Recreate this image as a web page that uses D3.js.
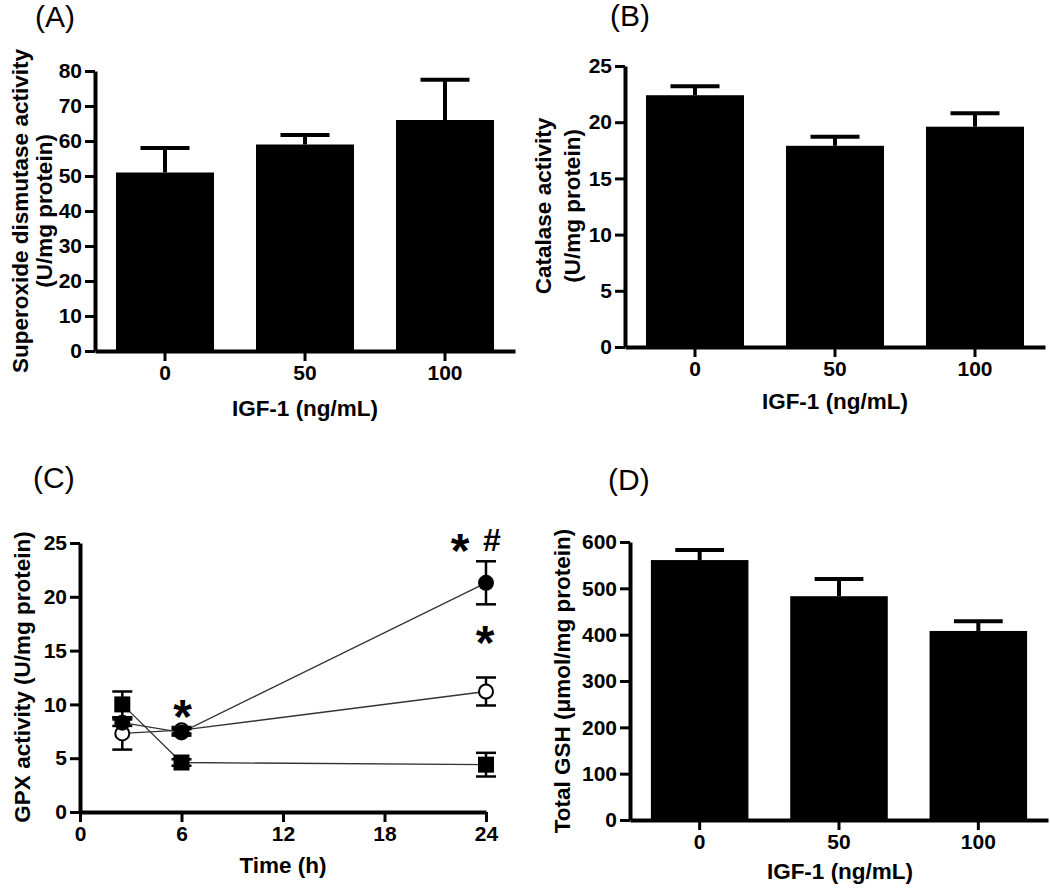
<!DOCTYPE html>
<html>
<head>
<meta charset="utf-8">
<script src="https://cdn.jsdelivr.net/npm/d3@7"></script>
<style>
  html, body { margin: 0; padding: 0; background: #fff; }
  svg { display: block; font-family: "Liberation Sans", Arial, sans-serif; }
</style>
</head>
<body>
<svg id="chart" width="1050" height="889"></svg>
<script>
// ---------------- DATA ----------------
const doses = ["0", "50", "100"];

const sodMean = [51, 59, 66];
const sodErr  = [7, 2.7, 11.5];
const sodTicks = [0, 10, 20, 30, 40, 50, 60, 70, 80];

const catMean = [22.4, 17.9, 19.6];
const catErr  = [0.8, 0.8, 1.2];
const catTicks = [0, 5, 10, 15, 20, 25];

const gshMean = [561, 483, 408];
const gshErr  = [22, 37, 21];
const gshTicks = [0, 100, 200, 300, 400, 500, 600];

const timePoints = [2.5, 6, 24];
const timeTicks = [0, 6, 12, 18, 24];
const gpxTicks = [0, 5, 10, 15, 20, 25];
const gpxFilled = [8.3, 7.4, 21.3];
const gpxFilledErr = [0.3, 0.3, 2.0];
const gpxOpen = [7.3, 7.6, 11.2];
const gpxOpenErr = [1.5, 0.3, 1.3];
const gpxSquare = [10.0, 4.6, 4.4];
const gpxSquareErr = [1.2, 0.3, 1.1];

// ---------------- HELPERS ----------------
const svg = d3.select("#chart");
const TICKFONT = "21px";
const TITLEFONT = "22.5px";

function styleAxis(g) {
  g.select(".domain").attr("stroke", "#000").attr("stroke-width", 4);
  g.selectAll(".tick line").attr("stroke", "#000").attr("stroke-width", 3);
  g.selectAll(".tick text")
    .attr("fill", "#000")
    .style("font-size", TICKFONT)
    .style("font-weight", "bold")
    .style("font-family", "'Liberation Sans', Arial, sans-serif");
}

function panelLabel(text, x, y) {
  svg.append("text").attr("x", x).attr("y", y)
    .style("font-size", "30px").style("font-weight", "normal")
    .text(text);
}

function yTitle(lines, xs, cy) {
  lines.forEach((t, i) => {
    svg.append("text")
      .attr("transform", `translate(${xs[i]},${cy}) rotate(-90)`)
      .attr("text-anchor", "middle")
      .style("font-size", TITLEFONT).style("font-weight", "bold")
      .text(t);
  });
}

function xTitle(text, cx, y) {
  svg.append("text").attr("x", cx).attr("y", y)
    .attr("text-anchor", "middle")
    .style("font-size", TITLEFONT).style("font-weight", "bold")
    .text(text);
}

function barPanel(cfg) {
  const x = d3.scaleBand().domain(doses).range([cfg.x0, cfg.x1])
    .paddingInner(0.3).paddingOuter(0.15);
  const y = d3.scaleLinear().domain([0, cfg.ymax]).range([cfg.yb, cfg.yt]);

  const g = svg.append("g");
  g.selectAll("rect.bar").data(cfg.mean).enter().append("rect")
    .attr("x", (d, i) => x(doses[i]))
    .attr("y", d => y(d))
    .attr("width", x.bandwidth())
    .attr("height", d => y(0) - y(d))
    .attr("fill", "#000");
  const capW = x.bandwidth() * 0.5;
  cfg.mean.forEach((m, i) => {
    const cx = x(doses[i]) + x.bandwidth() / 2;
    g.append("line").attr("x1", cx).attr("x2", cx)
      .attr("y1", y(m)).attr("y2", y(m + cfg.err[i]))
      .attr("stroke", "#000").attr("stroke-width", 4);
    g.append("line").attr("x1", cx - capW / 2).attr("x2", cx + capW / 2)
      .attr("y1", y(m + cfg.err[i])).attr("y2", y(m + cfg.err[i]))
      .attr("stroke", "#000").attr("stroke-width", 4);
  });
  const ya = g.append("g").attr("transform", `translate(${cfg.x0},0)`)
    .call(d3.axisLeft(y).tickValues(cfg.ticks).tickSize(10).tickSizeOuter(0).tickPadding(3));
  styleAxis(ya);
  const xa = g.append("g").attr("transform", `translate(0,${cfg.yb})`)
    .call(d3.axisBottom(x).tickSize(10).tickSizeOuter(0).tickPadding(4));
  styleAxis(xa);
}

// ---------------- PANEL A ----------------
barPanel({ x0: 95, x1: 515, yb: 351, yt: 71, ymax: 80, mean: sodMean, err: sodErr, ticks: sodTicks });
panelLabel("(A)", 35, 27);
yTitle(["Superoxide dismutase activity", "(U/mg protein)"], [28, 52], 211);
xTitle("IGF-1 (ng/mL)", 305, 416);

// ---------------- PANEL B ----------------
barPanel({ x0: 625, x1: 1045, yb: 347, yt: 66, ymax: 25, mean: catMean, err: catErr, ticks: catTicks });
panelLabel("(B)", 610, 26);
yTitle(["Catalase activity", "(U/mg protein)"], [551, 580], 206);
xTitle("IGF-1 (ng/mL)", 835, 409);

// ---------------- PANEL D ----------------
barPanel({ x0: 630, x1: 1048, yb: 820, yt: 542, ymax: 600, mean: gshMean, err: gshErr, ticks: gshTicks });
panelLabel("(D)", 608, 490);
yTitle(["Total GSH (\u03BCmol/mg protein)"], [570], 681);
xTitle("IGF-1 (ng/mL)", 840, 879);

// ---------------- PANEL C ----------------
(function () {
  const x = d3.scaleLinear().domain([0, 24]).range([80, 486]);
  const y = d3.scaleLinear().domain([0, 25]).range([812, 543]);
  const g = svg.append("g");

  const series = [
    { v: gpxSquare, e: gpxSquareErr, shape: "square" },
    { v: gpxOpen, e: gpxOpenErr, shape: "open" },
    { v: gpxFilled, e: gpxFilledErr, shape: "filled" }
  ];
  const line = d3.line().x((d, i) => x(timePoints[i])).y(d => y(d));
  series.forEach(s => {
    g.append("path").datum(s.v).attr("d", line)
      .attr("fill", "none").attr("stroke", "#333").attr("stroke-width", 1.3);
  });
  series.forEach(s => {
    s.v.forEach((m, i) => {
      const cx = x(timePoints[i]);
      g.append("line").attr("x1", cx).attr("x2", cx)
        .attr("y1", y(m - s.e[i])).attr("y2", y(m + s.e[i]))
        .attr("stroke", "#000").attr("stroke-width", 2.5);
      [m - s.e[i], m + s.e[i]].forEach(v => {
        g.append("line").attr("x1", cx - 10).attr("x2", cx + 10)
          .attr("y1", y(v)).attr("y2", y(v))
          .attr("stroke", "#000").attr("stroke-width", 2.5);
      });
    });
  });
  series.forEach(s => {
    s.v.forEach((m, i) => {
      const cx = x(timePoints[i]), cy = y(m);
      if (s.shape === "square") {
        g.append("rect").attr("x", cx - 8).attr("y", cy - 8)
          .attr("width", 16).attr("height", 16).attr("fill", "#000");
      } else if (s.shape === "open") {
        g.append("circle").attr("cx", cx).attr("cy", cy).attr("r", 7)
          .attr("fill", "#fff").attr("stroke", "#000").attr("stroke-width", 2);
      } else {
        g.append("circle").attr("cx", cx).attr("cy", cy).attr("r", 8)
          .attr("fill", "#000");
      }
    });
  });

  const ya = g.append("g").attr("transform", "translate(80,0)")
    .call(d3.axisLeft(y).tickValues(gpxTicks).tickSize(10).tickSizeOuter(0).tickPadding(3));
  styleAxis(ya);
  const xa = g.append("g").attr("transform", "translate(0,812)")
    .call(d3.axisBottom(x).tickValues(timeTicks).tickSize(10).tickSizeOuter(0).tickPadding(4));
  styleAxis(xa);

  const mark = (t, px, py, size) => svg.append("text").attr("x", px).attr("y", py)
    .attr("text-anchor", "middle").style("font-size", size)
    .style("font-weight", "bold").text(t);
  mark("*", x(6) + 1, 733, "48px");
  mark("*", x(24) - 26, 567, "48px");
  mark("#", x(24) + 6, 551, "32px");
  mark("*", x(24) - 1, 659, "48px");

  panelLabel("(C)", 33, 488);
  yTitle(["GPX activity (U/mg protein)"], [29.5], 677);
  xTitle("Time (h)", 283, 873);
})();
</script>
</body>
</html>
